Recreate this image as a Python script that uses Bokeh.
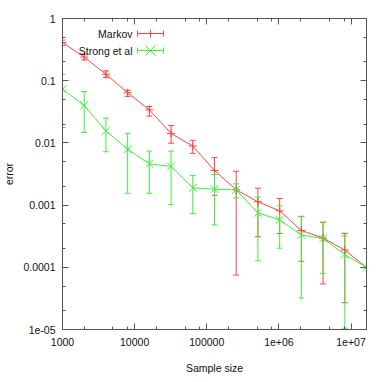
from bokeh.plotting import figure
from bokeh.models import (ColumnDataSource, Whisker, TeeHead, FixedTicker, LogAxis,
                          CustomJSTickFormatter, Label, Arrow)
from bokeh.embed import file_html
from bokeh.resources import INLINE

# ---- data ----
sample_size = [1000, 2000, 4000, 8000, 16000, 32000, 64000, 128000, 256000,
               512000, 1024000, 2048000, 4096000, 8192000, 16384000]
markov = [0.41, 0.24, 0.127, 0.064, 0.034, 0.0142, 0.0089, 0.0036, 0.00176,
          0.00113, 0.00081, 0.00039, 0.000295, 0.00019, 0.0000985]
markov_lo = [0.37, 0.216, 0.112, 0.056, 0.027, 0.0099, 0.0068, 0.00144, 0.000075,
             0.00031, 0.00035, 0.000125, 0.000054, 0.000027, 0.00001]
markov_hi = [0.45, 0.267, 0.144, 0.070, 0.0385, 0.019, 0.011, 0.0058, 0.0035,
             0.00187, 0.00128, 0.00066, 0.00053, 0.00035, 0.0002]
strong = [0.073, 0.040, 0.0156, 0.0079, 0.0046, 0.0042, 0.0019, 0.0018, 0.00176,
          0.00075, 0.00058, 0.00033, 0.00029, 0.00016, 0.0001]
strong_lo = [0.0177, 0.0147, 0.0072, 0.00155, 0.00155, 0.00102, 0.00073, 0.00048, 0.0013,
             0.000127, 0.000203, 0.000032, 0.000079, 0.0000105, 0.00001]
strong_hi = [0.127, 0.067, 0.025, 0.0143, 0.0074, 0.0074, 0.003, 0.0031, 0.0022,
             0.00135, 0.00097, 0.00065, 0.00053, 0.00032, 0.0002]

x_ticks = [1e3, 1e4, 1e5, 1e6, 1e7]
x_tick_labels = ["1000", "10000", "100000", "1e+06", "1e+07"]
y_ticks = [1e-5, 1e-4, 1e-3, 1e-2, 1e-1, 1]
y_tick_labels = ["1e-05", "0.0001", "0.001", "0.01", "0.1", "1"]
series_names = ["Markov", "Strong et al"]

RED = "#ff4444"
GREEN = "#3cf03c"
AXC = "#555555"
FONT = "Liberation Sans"
FSIZE = "10.5px"
TXT = "#111111"

x_minor = [d * m for d in [1e3, 1e4, 1e5, 1e6, 1e7] for m in (2, 5, 8)]
y_minor = [d * m for d in [1e-5, 1e-4, 1e-3, 1e-2, 1e-1] for m in (2, 5)]

p = figure(frame_width=304, frame_height=311, x_axis_type="log", y_axis_type="log",
           x_range=(1000, 16384000), y_range=(1e-5, 1),
           output_backend="svg", toolbar_location=None,
           min_border_left=56, min_border_right=8, min_border_top=18, min_border_bottom=46)
p.xgrid.visible = False
p.ygrid.visible = False
p.outline_line_color = AXC
p.background_fill_color = "white"
p.border_fill_color = "white"

code = """
for (let i = 0; i < vals.length; i++) {
  if (Math.abs(Math.log10(tick) - Math.log10(vals[i])) < 1e-6) return labels[i];
}
return '';
"""
xfmt = CustomJSTickFormatter(args=dict(vals=x_ticks, labels=x_tick_labels), code=code)
yfmt = CustomJSTickFormatter(args=dict(vals=y_ticks, labels=y_tick_labels), code=code)


def style(ax, show_labels):
    ax.major_tick_in = 6
    ax.major_tick_out = 0
    ax.minor_tick_in = 3
    ax.minor_tick_out = 0
    ax.axis_line_color = AXC
    ax.major_tick_line_color = AXC
    ax.minor_tick_line_color = AXC
    if show_labels:
        ax.major_label_text_font = FONT
        ax.major_label_text_font_size = FSIZE
        ax.major_label_text_color = TXT
        ax.axis_label_text_font = FONT
        ax.axis_label_text_font_size = FSIZE
        ax.axis_label_text_font_style = "normal"
        ax.axis_label_text_color = TXT
    else:
        ax.major_label_text_font_size = "0px"
        ax.major_label_standoff = 0


p.xaxis.ticker = FixedTicker(ticks=x_ticks, minor_ticks=x_minor)
p.xaxis.formatter = xfmt
p.xaxis.axis_label = "Sample size"
p.xaxis.major_label_standoff = 8
p.xaxis.axis_label_standoff = 13
style(p.xaxis[0], True)

p.yaxis.ticker = FixedTicker(ticks=y_ticks, minor_ticks=y_minor)
p.yaxis.formatter = yfmt
p.yaxis.axis_label = "error"
p.yaxis.major_label_standoff = 7
p.yaxis.axis_label_standoff = 5
style(p.yaxis[0], True)

top = LogAxis(ticker=FixedTicker(ticks=x_ticks, minor_ticks=x_minor),
              formatter=CustomJSTickFormatter(code="return '';"))
style(top, False)
p.add_layout(top, "above")
right = LogAxis(ticker=FixedTicker(ticks=y_ticks, minor_ticks=y_minor),
                formatter=CustomJSTickFormatter(code="return '';"))
style(right, False)
p.add_layout(right, "right")

src = ColumnDataSource(dict(x=sample_size, m=markov, mlo=markov_lo, mhi=markov_hi,
                            s=strong, slo=strong_lo, shi=strong_hi))

# error bars
for lo, hi, col in [("mlo", "mhi", RED), ("slo", "shi", GREEN)]:
    w = Whisker(source=src, base="x", lower=lo, upper=hi, line_color=col, line_width=1,
                upper_head=TeeHead(size=6, line_color=col, line_width=1),
                lower_head=TeeHead(size=6, line_color=col, line_width=1))
    p.add_layout(w)

p.line("x", "m", source=src, line_color=RED, line_width=1)
p.scatter("x", "m", source=src, marker="cross", size=8, line_color=RED, line_width=1)
p.line("x", "s", source=src, line_color=GREEN, line_width=1)
p.scatter("x", "s", source=src, marker="x", size=11, line_color=GREEN, line_width=1)

# ---- key (gnuplot style: label left, sample right); screen units relative to frame ----
KEY_TEXT_X = 70
KEY_L, KEY_R, KEY_MID = 75, 101, 88
ROWS = [296, 279]
for name, col, row, mk in zip(series_names, [RED, GREEN], ROWS, ["cross", "x"]):
    p.add_layout(Label(x=KEY_TEXT_X, y=row, x_units="screen", y_units="screen",
                       text=name, text_align="right", text_baseline="middle",
                       text_font=FONT, text_font_size=FSIZE, text_color=TXT))
    p.add_layout(Whisker(dimension="width", base=row, lower=KEY_L, upper=KEY_R,
                         base_units="screen", lower_units="screen", upper_units="screen",
                         line_color=col, line_width=1,
                         upper_head=TeeHead(size=6, line_color=col),
                         lower_head=TeeHead(size=6, line_color=col)))
    if mk == "cross":
        p.add_layout(Arrow(x_start=KEY_MID, y_start=row - 4, x_end=KEY_MID, y_end=row + 4,
                           start_units="screen", end_units="screen", end=None,
                           line_color=col, line_width=1))
    else:
        for dy in (-5, 5):
            p.add_layout(Arrow(x_start=KEY_MID - 5, y_start=row - dy, x_end=KEY_MID + 5,
                               y_end=row + dy, start_units="screen", end_units="screen",
                               end=None, line_color=col, line_width=1))

open("out.html", "w").write(file_html(p, INLINE))
